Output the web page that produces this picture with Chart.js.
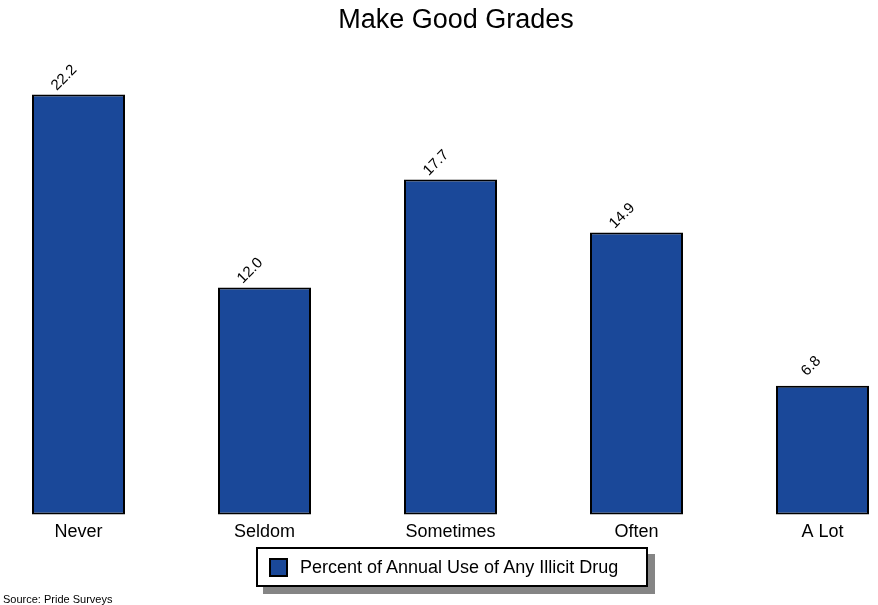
<!DOCTYPE html>
<html>
<head>
<meta charset="utf-8">
<script src="https://cdn.jsdelivr.net/npm/chart.js@4/dist/chart.umd.min.js"></script>
<style>
  html, body { margin: 0; padding: 0; background: #fff; }
  #wrap { position: relative; width: 878px; height: 605px; font-family: "Liberation Sans", Arial, sans-serif; }
  #c { position: absolute; left: 0; top: 0; }
  #legend { position: absolute; left: 256px; top: 547px; width: 388px; height: 36px; border: 2px solid #000; background: #fff; box-shadow: 7px 7px 0 #858585; }
  #legend .sw { position: absolute; left: 11px; top: 9px; width: 15px; height: 15px; border: 2px solid #000; background: #1a4899; }
  #legend .tx { position: absolute; left: 42px; top: 0; line-height: 36px; font-size: 18px; color: #000; white-space: nowrap; }
  #source { position: absolute; left: 3px; top: 593px; font-size: 11px; color: #000; white-space: nowrap; }
</style>
</head>
<body>
<div id="wrap">
  <canvas id="c" width="878" height="605"></canvas>
  <div id="legend"><div class="sw"></div><div class="tx" id="legendText"></div></div>
  <div id="source"></div>
</div>
<script>
const titleText = "Make Good Grades";
const categories = ["Never", "Seldom", "Sometimes", "Often", "A Lot"];
const seriesLabel = "Percent of Annual Use of Any Illicit Drug";
const values = [22.2, 12.0, 17.7, 14.9, 6.8];
const sourceText = "Source: Pride Surveys";

const FONT = '"Liberation Sans", Arial, sans-serif';
document.getElementById('legendText').textContent = seriesLabel;
document.getElementById('source').textContent = sourceText;

const titlePlugin = {
  id: 'customTitle',
  afterDraw(chart) {
    const ctx = chart.ctx;
    ctx.save();
    ctx.font = '27px ' + FONT;
    ctx.fillStyle = '#000';
    ctx.textAlign = 'center';
    ctx.textBaseline = 'middle';
    ctx.fillText(titleText, 456, 21);
    ctx.restore();
  }
};

const valueLabels = {
  id: 'valueLabels',
  afterDatasetsDraw(chart) {
    const ctx = chart.ctx;
    const meta = chart.getDatasetMeta(0);
    ctx.save();
    ctx.font = '15px ' + FONT;
    ctx.fillStyle = '#000';
    ctx.textAlign = 'right';
    ctx.textBaseline = 'middle';
    meta.data.forEach((bar, i) => {
      const v = chart.data.datasets[0].data[i];
      ctx.save();
      ctx.translate(bar.x - 4, bar.y - 27);
      ctx.rotate(-Math.PI / 4);
      ctx.fillText(v.toFixed(1), 0, 0);
      ctx.restore();
    });
    ctx.restore();
  }
};

new Chart(document.getElementById('c'), {
  type: 'bar',
  data: {
    labels: categories,
    datasets: [{
      label: seriesLabel,
      data: values,
      backgroundColor: '#1a4899',
      borderColor: '#000',
      borderWidth: 2,
      borderSkipped: false,
      categoryPercentage: 1,
      barPercentage: 0.5,
      clip: false
    }]
  },
  options: {
    responsive: false,
    animation: false,
    events: [],
    layout: { padding: { left: 78.5, right: 55.5, top: 41.5, bottom: 55 } },
    plugins: {
      legend: { display: false },
      title: { display: false },
      tooltip: { enabled: false }
    },
    scales: {
      x: {
        offset: false,
        grid: { display: false, drawTicks: false },
        border: { display: false },
        ticks: { color: '#000', font: { family: FONT, size: 18 }, padding: 7, maxRotation: 0, autoSkip: false }
      },
      y: {
        display: false,
        min: 0,
        max: 25
      }
    }
  },
  plugins: [titlePlugin, valueLabels]
});
</script>
</body>
</html>
